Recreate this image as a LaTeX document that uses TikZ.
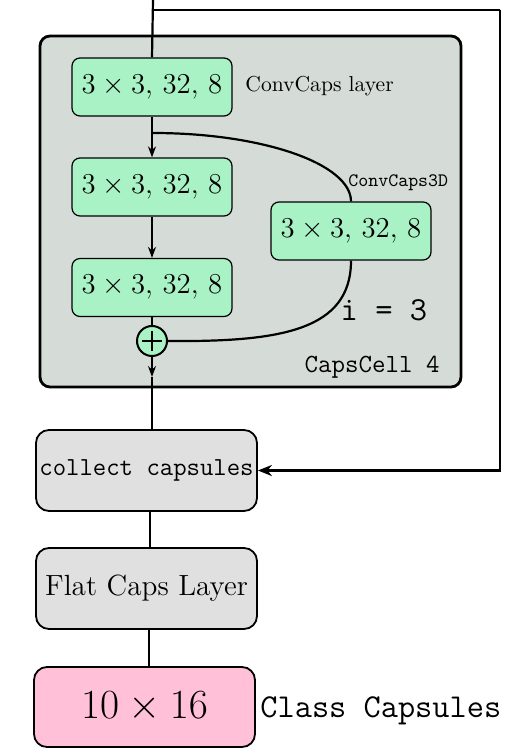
\documentclass[tikz,border=0pt]{standalone}
\usetikzlibrary{arrows.meta,calc}
\definecolor{capsgreen}{RGB}{168,242,198}
\definecolor{cellgray}{RGB}{213,220,216}
\definecolor{boxgray}{RGB}{224,224,224}
\definecolor{classpink}{RGB}{255,192,216}
\tikzset{
  gbox/.style={draw, fill=capsgreen, rounded corners=4pt, line width=0.6pt,
    minimum width=80pt, minimum height=29pt, inner sep=0pt,
    font=\fontsize{13.7}{16}\selectfont},
  graybox/.style={draw, fill=boxgray, rounded corners=6.5pt, line width=0.9pt,
    minimum width=110.5pt, minimum height=40.5pt, inner sep=0pt},
  cellbox/.style={draw, fill=cellgray, rounded corners=5pt, line width=1.4pt,
    minimum width=210.5pt, minimum height=175.5pt, inner sep=0pt},
  conn/.style={line width=1.1pt},
  thickconn/.style={line width=1.35pt},
  arr/.style={conn, -{Stealth[length=5.5pt,width=4pt,inset=1.8pt]}},
  bigarr/.style={conn, -{Stealth[length=7pt,width=5.5pt,inset=2.2pt]}},
  lbl/.style={inner sep=0pt}
}
\begin{document}
\begin{tikzpicture}[x=0.5pt,y=-0.5pt]
\useasboundingbox (0,0) rectangle (530,753);
% cell
\node[cellbox] (cell) at (250.5,211.5) {};
% green boxes
\node[gbox] (b1) at (152,87) {$3\times3,\,32,\,8$};
\node[gbox] (b2) at (152,187) {$3\times3,\,32,\,8$};
\node[gbox] (b3) at (351,231) {$3\times3,\,32,\,8$};
\node[gbox] (b4) at (152,287.5) {$3\times3,\,32,\,8$};
\node[draw, fill=capsgreen, circle, line width=1pt, minimum size=15pt, inner sep=0pt] (plus) at (152,341) {};
\draw[line width=1.4pt] ($(plus.center)+(-10,0)$) -- ($(plus.center)+(10,0)$)
  ($(plus.center)+(0,-10)$) -- ($(plus.center)+(0,10)$);
% labels inside cell
\node[lbl, anchor=west, font=\fontsize{10.8}{12}\selectfont] (l1) at (245,86) {ConvCaps layer};
\node[lbl, anchor=west, font=\fontsize{9.5}{11}\ttfamily] (l3d) at (348,183) {ConvCaps3D};
\node[lbl, font=\fontsize{16.8}{18}\ttfamily] (li) at (384,310) {i = 3};
\node[lbl, anchor=base east, font=\fontsize{13.1}{15}\ttfamily] (lcell) at (440,372) {CapsCell 4};
% lower boxes
\node[graybox, font=\fontsize{13}{15}\ttfamily] (collect) at (146.5,470.5) {collect capsules};
\node[graybox, font=\fontsize{14.6}{17}\selectfont] (flat) at (146.5,588.5) {Flat Caps Layer};
\node[draw, fill=classpink, rounded corners=6.5pt, line width=0.9pt, minimum width=110.5pt,
  minimum height=40pt, inner sep=0pt, font=\fontsize{20}{22}\selectfont] (cls) at (144.5,707) {$10\times16$};
\node[lbl, anchor=base west, font=\fontsize{16.7}{19}\ttfamily] (lcls) at (260,717) {Class Capsules};
% coordinates
\coordinate (top) at (153,0);
\coordinate (split) at (153,10);
\coordinate (rt) at (500,10);
\coordinate (br) at (153,133);
\coordinate (down) at (152,377);
% connectors
\draw[conn] (top) -- (b1.north);
\draw[conn] (split) -- (rt);
\draw[bigarr] (rt) |- (collect.east);
\draw[arr] (b1.south) -- (b2.north);
\draw[arr] (b2.south) -- (b4.north);
\draw[conn] (b4.south) -- (plus.north);
\draw[conn] (br) .. controls (263,133) and (b3.north |- 0,164) .. (b3.north);
\draw[conn] (b3.south) .. controls ($(b3.south)+(0,70)$) and (280,342) .. (plus.east);
\draw[arr] (plus.south) -- (down);
\draw[thickconn] (down) -- (down |- collect.north);
\draw[thickconn] ($(collect.south)+(3.5,0)$) -- ($(flat.north)+(3.5,0)$);
\draw[conn] ($(flat.south)+(2.5,0)$) -- ($(cls.north)+(4.5,0)$);
\end{tikzpicture}
\end{document}
